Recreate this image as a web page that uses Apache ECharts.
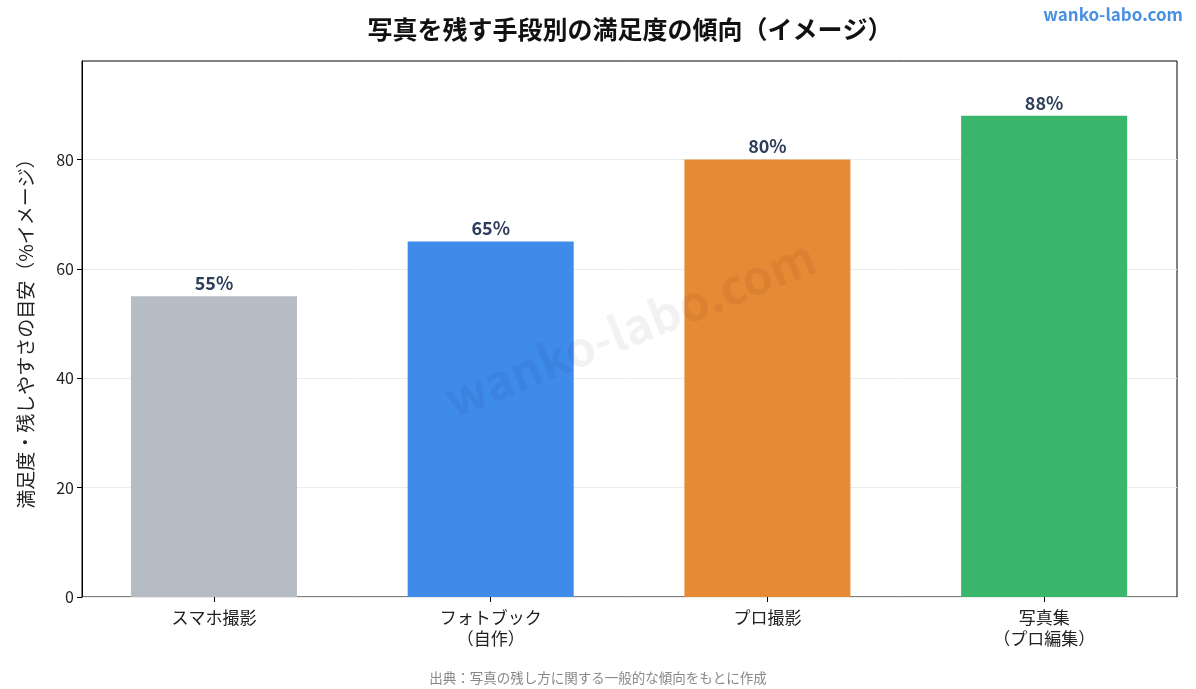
<!DOCTYPE html>
<html>
<head>
<meta charset="utf-8">
<script src="https://cdn.jsdelivr.net/npm/echarts@6/dist/echarts.min.js"></script>
<style>
  html, body { margin: 0; padding: 0; background: #fff; }
  #chart { width: 1196px; height: 689px; }
</style>
</head>
<body>
<div id="chart"></div>
<script>
// 手段ごとの満足度（イメージ）
const categories = ['スマホ撮影', 'フォトブック\n（自作）', 'プロ撮影', '写真集\n（プロ編集）'];
const satisfaction = [55, 65, 80, 88];
const yTicks = [0, 20, 40, 60, 80];

const barColors = ['#b5bcc4', '#3f8bea', '#e68a35', '#3ab56c'];
const FONT = '"Noto Sans CJK JP", "Noto Sans", sans-serif';

const chart = echarts.init(document.getElementById('chart'), null, { renderer: 'canvas' });

const option = {
  backgroundColor: '#ffffff',
  textStyle: { fontFamily: FONT },
  title: {
    text: '写真を残す手段別の満足度の傾向（イメージ）',
    left: 625, top: 12, textAlign: 'center',
    textStyle: { fontSize: 25, fontWeight: 'bold', color: '#111', fontFamily: FONT }
  },
  grid: [
    // 棒を置く領域（カテゴリ間隔を合わせるため少し広い）
    { left: 75.6, right: 13.5, top: 61, bottom: 92 },
    // 枠・目盛り用
    { left: 82, right: 19, top: 61, bottom: 92, show: true, borderColor: '#000', borderWidth: 1, backgroundColor: 'transparent' }
  ],
  xAxis: [
    {
      type: 'category', gridIndex: 0,
      data: categories,
      axisLine: { show: false },
      axisTick: { show: true, alignWithLabel: true, length: 5, lineStyle: { color: '#000' } },
      axisLabel: { color: '#222', fontSize: 17, lineHeight: 21, margin: 10, fontFamily: FONT }
    },
    { type: 'value', gridIndex: 1, show: false, min: 0, max: 1 }
  ],
  yAxis: [
    { type: 'value', gridIndex: 0, min: 0, max: 98, show: false },
    {
      type: 'value', gridIndex: 1,
      min: 0, max: 98,
      name: '満足度・残しやすさの目安（%イメージ）',
      nameLocation: 'middle', nameGap: 47, nameRotate: 90,
      nameTextStyle: { fontSize: 19, color: '#222', fontFamily: FONT },
      axisLine: { show: true, onZero: false, lineStyle: { color: '#000', width: 1 } },
      axisTick: { show: true, length: 5, lineStyle: { color: '#000' }, customValues: yTicks },
      axisLabel: { customValues: yTicks, color: '#222', fontSize: 16, margin: 8, fontFamily: FONT },
      splitLine: { show: true, lineStyle: { color: '#ebebeb', width: 1 } }
    }
  ],
  series: [{
    type: 'bar',
    xAxisIndex: 0, yAxisIndex: 0,
    barWidth: '60%',
    data: satisfaction.map((v, i) => ({
      value: v,
      itemStyle: { color: barColors[i] }
    })),
    label: {
      show: true, position: 'top', distance: 4,
      formatter: '{c}%',
      fontSize: 18, fontWeight: 'bold', color: '#2c3e5a', fontFamily: FONT
    }
  }],
  graphic: [
    {
      type: 'text', right: 13, top: 6,
      style: { text: 'wanko-labo.com', fill: '#4a90e2', font: 'bold 17px ' + FONT }
    },
    {
      type: 'text', x: 630, y: 328, rotation: 22 * Math.PI / 180, z: 100,
      style: {
        text: 'wanko-labo.com', fill: 'rgba(0,0,0,0.05)',
        font: 'bold 48px ' + FONT, align: 'center', verticalAlign: 'middle'
      }
    },
    {
      type: 'text', left: 'center', top: 671,
      style: { text: '出典：写真の残し方に関する一般的な傾向をもとに作成', fill: '#888', font: '13.5px ' + FONT }
    }
  ]
};

chart.setOption(option);
</script>
</body>
</html>
